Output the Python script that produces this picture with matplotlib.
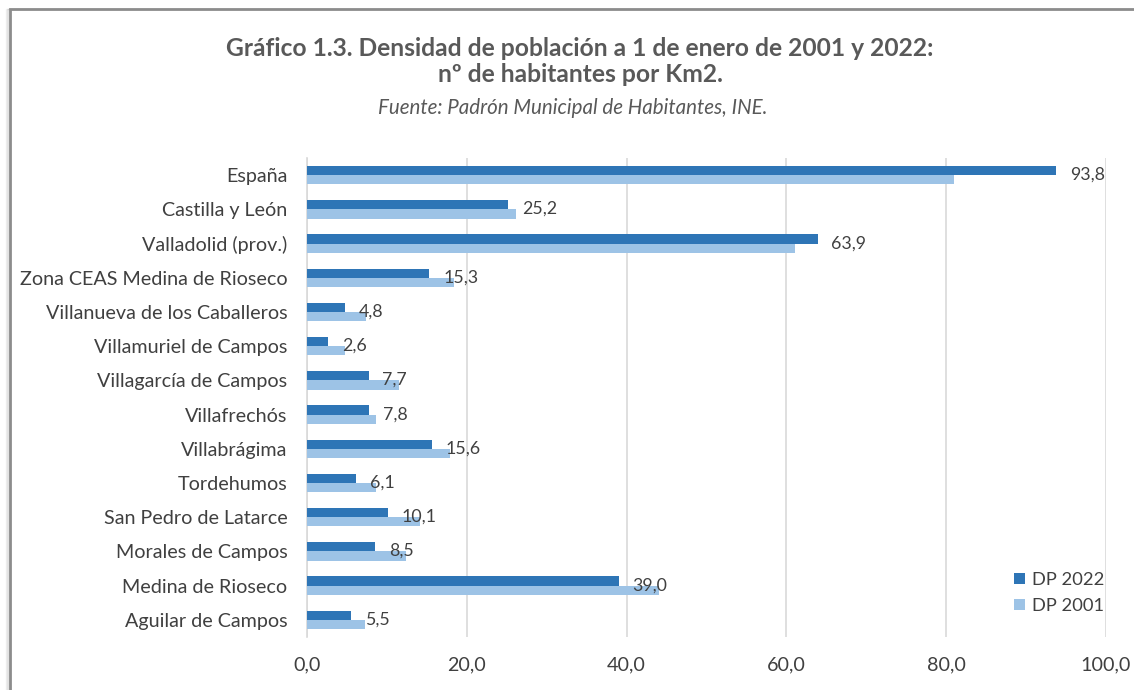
import matplotlib
matplotlib.use("Agg")
import matplotlib.pyplot as plt
import numpy as np
from matplotlib.patches import Rectangle

categories = ["España", "Castilla y León", "Valladolid (prov.)", "Zona CEAS Medina de Rioseco",
              "Villanueva de los Caballeros", "Villamuriel de Campos", "Villagarcía de Campos",
              "Villafrechós", "Villabrágima", "Tordehumos", "San Pedro de Latarce",
              "Morales de Campos", "Medina de Rioseco", "Aguilar de Campos"]
dp2022 = [93.8, 25.2, 63.9, 15.3, 4.8, 2.6, 7.7, 7.8, 15.6, 6.1, 10.1, 8.5, 39.0, 5.5]
dp2001 = [81.0, 26.2, 61.1, 18.4, 7.4, 4.7, 11.5, 8.6, 17.9, 8.6, 14.2, 12.4, 44.0, 7.3]
xticks = [0, 20, 40, 60, 80, 100]

plt.rcParams['font.family'] = ['Lato', 'DejaVu Sans']
txt = '#404040'
dark = '#2E75B6'
light = '#9DC3E6'

fig = plt.figure(figsize=(11.34, 6.9), dpi=100)
# frame with shadow
for off, a in [(4, 0.10), (3, 0.15), (2, 0.2)]:
    fig.patches.append(Rectangle(((10 - off) / 1134, -0.1), 1.2, 1 - 9 / 690 + 0.1,
                                 transform=fig.transFigure, fill=False, edgecolor='#7f7f7f',
                                 linewidth=1, alpha=a, zorder=0))
fig.patches.append(Rectangle((10 / 1134, -0.1), 1.2, 1 - 9 / 690 + 0.1,
                             transform=fig.transFigure, fill=False, edgecolor='#8c8c8c',
                             linewidth=2.0, zorder=1))

ax = fig.add_axes([307 / 1134, 1 - 637 / 690, (1106 - 307) / 1134, (637 - 158) / 690])
n = len(categories)
y = np.arange(n)
h = 0.27
ax.barh(y - h / 2, dp2022, height=h, color=dark, label='DP 2022', zorder=3)
ax.barh(y + h / 2, dp2001, height=h, color=light, label='DP 2001', zorder=3)
ax.set_ylim(n - 0.5, -0.5)
ax.set_xlim(0, 100)
ax.set_yticks(y)
ax.set_yticklabels(categories, fontsize=14.2, color=txt)
ax.set_xticks(xticks)
ax.set_xticklabels([f"{v:.1f}".replace('.', ',') for v in xticks], fontsize=14.2, color=txt)
ax.tick_params(axis='both', length=0)
ax.tick_params(axis='y', pad=14)
ax.tick_params(axis='x', pad=14)
ax.grid(axis='x', color='#d9d9d9', linewidth=1.2, zorder=0)
for s in ['top', 'right', 'bottom']:
    ax.spines[s].set_visible(False)
ax.spines['left'].set_color('#d9d9d9')
ax.spines['left'].set_linewidth(1.2)

for yi, v in zip(y, dp2022):
    ax.annotate(f"{v:.1f}".replace('.', ','), xy=(v, yi - h / 2), xytext=(10, -2),
                textcoords='offset points', va='center_baseline', ha='left', fontsize=12.8,
                color=txt, zorder=4)

leg = ax.legend(loc='lower right', bbox_to_anchor=(1.012, 0.025), frameon=False, fontsize=13.2,
                handlelength=0.6, handleheight=0.6, handletextpad=0.4, labelspacing=0.55,
                borderaxespad=0.2)
for t in leg.get_texts():
    t.set_color(txt)

fig.text(580 / 1134, 1 - 48 / 690, "Gráfico 1.3. Densidad de población a 1 de enero de 2001 y 2022:",
         ha='center', va='center', fontsize=17.7, fontweight='bold', color='#595959')
fig.text(580 / 1134, 1 - 75 / 690, "nº de habitantes por Km2.",
         ha='center', va='center', fontsize=17.7, fontweight='bold', color='#595959')
fig.text(573 / 1134, 1 - 108 / 690, "Fuente: Padrón Municipal de Habitantes, INE.",
         ha='center', va='center', fontsize=14.8, style='italic', color='#595959')

fig.savefig("out.png", dpi=100)
